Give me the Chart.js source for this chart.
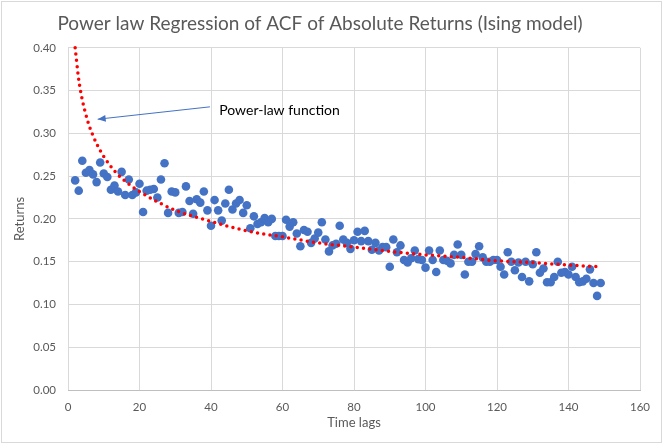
<!DOCTYPE html>
<html>
<head>
<meta charset="utf-8">
<title>Power law Regression of ACF of Absolute Returns</title>
<script src="https://cdn.jsdelivr.net/npm/chart.js@4.4.1/dist/chart.umd.min.js"></script>
<style>
  html, body { margin: 0; padding: 0; background: #fff; }
  #wrap { width: 663px; height: 444px; }
</style>
</head>
<body>
<div id="wrap"><canvas id="acfChart" width="663" height="444"></canvas></div>
<script>
// time lags (x) and ACF of absolute returns (y)
const lags = [2, 3, 4, 5, 6, 7, 8, 9, 10, 11, 12, 13, 14, 15, 16, 17, 18, 19, 20, 21,
  22, 23, 24, 25, 26, 27, 28, 29, 30, 31, 32, 33, 34, 35, 36, 37, 38, 39, 40, 41,
  42, 43, 44, 45, 46, 47, 48, 49, 50, 51, 52, 53, 54, 55, 56, 57, 58, 59, 60, 61,
  62, 63, 64, 65, 66, 67, 68, 69, 70, 71, 72, 73, 74, 75, 76, 77, 78, 79, 80, 81,
  82, 83, 84, 85, 86, 87, 88, 89, 90, 91, 92, 93, 94, 95, 96, 97, 98, 99, 100, 101,
  102, 103, 104, 105, 106, 107, 108, 109, 110, 111, 112, 113, 114, 115, 116, 117, 118, 119, 120, 121,
  122, 123, 124, 125, 126, 127, 128, 129, 130, 131, 132, 133, 134, 135, 136, 137, 138, 139, 140, 141,
  142, 143, 144, 145, 146, 147, 148, 149];

const returns = [0.245, 0.233, 0.268, 0.254, 0.257, 0.252, 0.243, 0.266, 0.253, 0.249,
  0.234, 0.239, 0.232, 0.255, 0.228, 0.246, 0.228, 0.231, 0.241, 0.208,
  0.233, 0.234, 0.235, 0.225, 0.246, 0.265, 0.207, 0.232, 0.231, 0.207,
  0.208, 0.238, 0.221, 0.206, 0.223, 0.219, 0.232, 0.210, 0.192, 0.222,
  0.210, 0.198, 0.218, 0.234, 0.211, 0.218, 0.222, 0.207, 0.216, 0.189,
  0.203, 0.194, 0.196, 0.201, 0.196, 0.200, 0.180, 0.180, 0.180, 0.199,
  0.191, 0.196, 0.183, 0.168, 0.187, 0.185, 0.172, 0.177, 0.184, 0.196,
  0.176, 0.162, 0.169, 0.171, 0.192, 0.176, 0.172, 0.165, 0.175, 0.185,
  0.174, 0.186, 0.174, 0.164, 0.172, 0.163, 0.167, 0.167, 0.144, 0.176,
  0.161, 0.169, 0.152, 0.149, 0.154, 0.163, 0.153, 0.152, 0.143, 0.163,
  0.152, 0.138, 0.163, 0.152, 0.151, 0.148, 0.158, 0.170, 0.158, 0.135,
  0.150, 0.150, 0.159, 0.168, 0.155, 0.150, 0.150, 0.152, 0.152, 0.144,
  0.135, 0.161, 0.150, 0.140, 0.149, 0.132, 0.150, 0.127, 0.147, 0.161,
  0.137, 0.142, 0.126, 0.126, 0.132, 0.150, 0.137, 0.138, 0.135, 0.144,
  0.132, 0.126, 0.127, 0.130, 0.141, 0.125, 0.110, 0.125];

// dotted power-law trendline
const trendLags = [2, 3, 4, 5, 6, 8, 10, 13, 16, 20, 25, 30, 40, 50, 60, 70, 80, 90, 100, 110, 120, 130, 140, 149];
const trendValues = [0.400, 0.363, 0.339, 0.322, 0.308, 0.288, 0.273, 0.256, 0.244, 0.232, 0.220, 0.210,
  0.197, 0.186, 0.179, 0.172, 0.167, 0.162, 0.158, 0.155, 0.151, 0.149, 0.146, 0.144];

const xTicks = [0, 20, 40, 60, 80, 100, 120, 140, 160];
const yTicks = [0, 0.05, 0.10, 0.15, 0.20, 0.25, 0.30, 0.35, 0.40];

const FONT = 'Lato, "Open Sans", "Liberation Sans", sans-serif';
const GREY = '#595959';

const scatterPoints = lags.map((x, i) => ({ x: x, y: returns[i] }));
const trendPoints = trendLags.map((x, i) => ({ x: x, y: trendValues[i] }));

// white background + light outer frame
const frame = {
  id: 'frame',
  beforeDraw(chart) {
    const c = chart.ctx;
    c.save();
    c.fillStyle = '#fff';
    c.fillRect(0, 0, chart.width, chart.height);
    c.restore();
  },
  afterDraw(chart) {
    const c = chart.ctx;
    c.save();
    c.strokeStyle = '#d9d9d9';
    c.lineWidth = 1;
    c.strokeRect(1.5, 1.5, chart.width - 3, chart.height - 3);
    c.restore();
  }
};

// "Power-law function" label with arrow to the curve
const callout = {
  id: 'callout',
  afterDatasetsDraw(chart) {
    const xs = chart.scales.x, ys = chart.scales.y;
    const c = chart.ctx;
    const tx = xs.getPixelForValue(39.7), ty = ys.getPixelForValue(0.331);
    const hx = xs.getPixelForValue(8.3), hy = ys.getPixelForValue(0.3165);
    c.save();
    c.strokeStyle = '#4472c4';
    c.fillStyle = '#4472c4';
    c.lineWidth = 1;
    c.beginPath();
    c.moveTo(tx, ty);
    c.lineTo(hx, hy);
    c.stroke();
    const ang = Math.atan2(hy - ty, hx - tx);
    const len = 8, half = 3.5;
    c.beginPath();
    c.moveTo(hx, hy);
    c.lineTo(hx - len * Math.cos(ang) + half * Math.sin(ang), hy - len * Math.sin(ang) - half * Math.cos(ang));
    c.lineTo(hx - len * Math.cos(ang) - half * Math.sin(ang), hy - len * Math.sin(ang) + half * Math.cos(ang));
    c.closePath();
    c.fill();
    c.fillStyle = '#000';
    c.font = '14px ' + FONT;
    c.textBaseline = 'middle';
    c.fillText('Power-law function', xs.getPixelForValue(42.3), ys.getPixelForValue(0.3265));
    c.restore();
  }
};

new Chart(document.getElementById('acfChart'), {
  type: 'scatter',
  data: {
    datasets: [
      {
        label: 'ACF',
        data: scatterPoints,
        backgroundColor: '#4472c4',
        borderColor: '#4472c4',
        pointRadius: 4.3,
        pointBorderWidth: 0,
        order: 2
      },
      {
        label: 'Power-law fit',
        data: trendPoints,
        showLine: true,
        borderColor: '#ff0000',
        borderWidth: 3.5,
        borderDash: [0, 6.3],
        borderCapStyle: 'round',
        cubicInterpolationMode: 'monotone',
        pointRadius: 0,
        fill: false,
        clip: false,
        order: 1
      }
    ]
  },
  options: {
    responsive: false,
    animation: false,
    layout: { padding: { left: 0, right: 23, top: 0, bottom: 0 } },
    plugins: {
      legend: { display: false },
      tooltip: { enabled: false },
      title: {
        display: true,
        text: 'Power law Regression of ACF of Absolute Returns (Ising model)',
        color: GREY,
        font: { family: FONT, size: 19, weight: 'normal' },
        padding: { top: 12, bottom: 13 }
      }
    },
    scales: {
      x: {
        type: 'linear',
        min: 0,
        max: 160,
        afterBuildTicks(scale) { scale.ticks = xTicks.map(v => ({ value: v })); },
        afterFit(scale) { scale.height = 54; },
        grid: { color: '#d9d9d9', drawTicks: false },
        border: { color: '#bfbfbf' },
        ticks: { color: GREY, font: { family: FONT, size: 11.5 }, padding: 10 },
        title: {
          display: true,
          text: 'Time lags',
          color: GREY,
          font: { family: FONT, size: 13 },
          padding: { top: 0, bottom: 13 }
        }
      },
      y: {
        min: 0,
        max: 0.4,
        afterBuildTicks(scale) { scale.ticks = yTicks.map(v => ({ value: v })); },
        afterFit(scale) { scale.width = 68; },
        grid: { color: '#d9d9d9', drawTicks: false },
        border: { display: false },
        ticks: {
          color: GREY,
          font: { family: FONT, size: 11.5 },
          padding: 12,
          callback: v => v.toFixed(2)
        },
        title: {
          display: true,
          text: 'Returns',
          color: GREY,
          font: { family: FONT, size: 13 },
          padding: { top: 12, bottom: 0 }
        }
      }
    }
  },
  plugins: [frame, callout]
});
</script>
</body>
</html>
